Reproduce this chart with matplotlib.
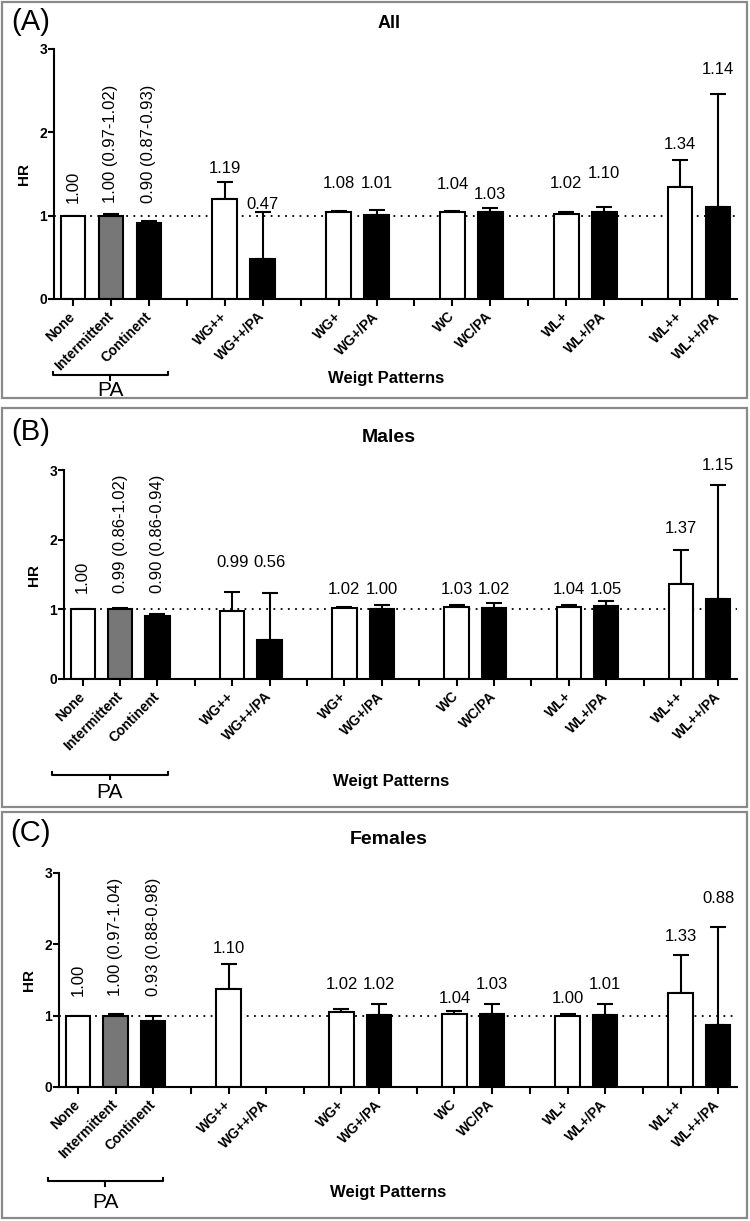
import numpy as np
import matplotlib.pyplot as plt
import matplotlib.patches as patches
import matplotlib.transforms as mtransforms

plt.rcParams['font.family'] = ['Liberation Sans', 'DejaVu Sans']

# x categories (empty strings are the spacer ticks between groups)
categories = ['None', 'Intermittent', 'Continent', '',
              'WG++', 'WG++/PA', '', 'WG+', 'WG+/PA', '',
              'WC', 'WC/PA', '', 'WL+', 'WL+/PA', '', 'WL++', 'WL++/PA']
bar_colors = ['white', '#777777', 'black', 'white', 'black', 'white', 'black',
              'white', 'black', 'white', 'black', 'white', 'black']

# (A) All
hr_all = [1.00, 1.00, 0.91, 1.20, 0.48, 1.04, 1.01, 1.05, 1.04, 1.02, 1.05, 1.34, 1.10]
upper_all = [np.nan, 1.02, 0.94, 1.40, 1.05, 1.06, 1.07, 1.06, 1.09, 1.04, 1.11, 1.67, 2.46]
text_all = ['1.00', '1.00 (0.97-1.02)', '0.90 (0.87-0.93)', '1.19', '0.47', '1.08', '1.01',
            '1.04', '1.03', '1.02', '1.10', '1.34', '1.14']

# (B) Males
hr_male = [1.00, 1.00, 0.90, 0.98, 0.56, 1.02, 1.00, 1.03, 1.02, 1.03, 1.05, 1.37, 1.15]
upper_male = [np.nan, 1.02, 0.93, 1.25, 1.24, 1.04, 1.065, 1.056, 1.094, 1.056, 1.118, 1.85, 2.78]
text_male = ['1.00', '0.99 (0.86-1.02)', '0.90 (0.86-0.94)', '0.99', '0.56', '1.02', '1.00',
             '1.03', '1.02', '1.04', '1.05', '1.37', '1.15']

# (C) Females (no WG++/PA bar)
hr_female = [1.00, 1.00, 0.93, 1.38, np.nan, 1.05, 1.01, 1.03, 1.02, 0.99, 1.01, 1.32, 0.87]
upper_female = [np.nan, 1.03, 0.99, 1.73, np.nan, 1.09, 1.16, 1.06, 1.16, 1.02, 1.16, 1.85, 2.25]
text_female = ['1.00', '1.00 (0.97-1.04)', '0.93 (0.88-0.98)', '1.10', '', '1.02', '1.02',
               '1.04', '1.03', '1.00', '1.01', '1.33', '0.88']

W, H = 750, 1221
fig = plt.figure(figsize=(W / 100, H / 100), dpi=100)

def rect(left, right, top, bottom):
    return [left / W, 1 - bottom / H, (right - left) / W, (bottom - top) / H]

panels = [
    dict(tag='(A)', title='All', tsize=13, hr=hr_all, up=upper_all, txt=text_all,
         box=(2, 747, 2, 398), ax=(54, 737, 49, 299), tag_y=22, title_y=23,
         rot_y=1.15, lab_y=[1.57, 1.13, 1.39, 1.39, 1.37, 1.25, 1.38, 1.50, 1.85, 2.75],
         br=(-0.53, 2.5), br_off=55, pa_off=66, xl_off=57),
    dict(tag='(B)', title='Males', tsize=14, hr=hr_male, up=upper_male, txt=text_male,
         box=(2, 747, 408, 807), ax=(64, 737, 470, 679), tag_y=432, title_y=438,
         rot_y=1.24, lab_y=[1.67, 1.67, 1.28, 1.28, 1.28, 1.28, 1.28, 1.28, 2.16, 3.06],
         br=(-0.83, 2.27), br_off=69, pa_off=82, xl_off=74),
    dict(tag='(C)', title='Females', tsize=14, hr=hr_female, up=upper_female, txt=text_female,
         box=(2, 747, 812, 1218), ax=(59, 737, 873, 1087), tag_y=833, title_y=840,
         rot_y=1.27, lab_y=[1.94, np.nan, 1.43, 1.43, 1.24, 1.43, 1.24, 1.43, 2.11, 2.64],
         br=(-0.8, 2.26), br_off=68, pa_off=83, xl_off=76),
]

xpos = [i for i, c in enumerate(categories) if c]

for p in panels:
    l, r, t, b = p['box']
    fig.add_artist(patches.Rectangle((l / W, 1 - b / H), (r - l) / W, (b - t) / H,
                                     transform=fig.transFigure, fill=False,
                                     edgecolor='#8a8a8a', linewidth=1.6))
    fig.text(31 / W, 1 - p['tag_y'] / H, p['tag'], fontsize=21, ha='center', va='center')
    fig.text(389 / W, 1 - p['title_y'] / H, p['title'], fontsize=p['tsize'],
             fontweight='bold', ha='center', va='center')

    ax = fig.add_axes(rect(*p['ax']))
    ax.axhline(1, color='black', linestyle=(0, (1, 3)), linewidth=1.3, zorder=1)
    hr = np.array(p['hr'])
    up = np.array(p['up'])
    err = np.vstack([np.zeros_like(hr), up - hr])
    ax.bar(xpos, hr, width=0.65, color=bar_colors, edgecolor='black', linewidth=1.5, zorder=2)
    ax.errorbar(xpos, hr, yerr=err, fmt='none', ecolor='black', elinewidth=1.5,
                capsize=6, capthick=1.5, zorder=1.5)

    for i, (x, s) in enumerate(zip(xpos, p['txt'])):
        if not s:
            continue
        if i < 3:
            ax.text(x, p['rot_y'], s, rotation=90, ha='center', va='bottom', fontsize=12)
        else:
            ax.text(x, p['lab_y'][i - 3], s, ha='center', va='center', fontsize=12,
                    clip_on=False)

    ax.set_xlim(-0.5, len(categories) - 0.5)
    ax.set_ylim(0, 3)
    ax.set_yticks([0, 1, 2, 3])
    ax.set_xticks(range(len(categories)))
    ax.set_xticklabels(categories, rotation=45, ha='right', va='center',
                       rotation_mode='anchor', fontweight='bold', fontsize=10)
    for lab in ax.get_yticklabels():
        lab.set_fontweight('bold')
    ax.tick_params(axis='y', labelsize=10, length=4, width=1.5, pad=1)
    ax.tick_params(axis='x', length=5, width=1.5, pad=6)
    for side in ['top', 'right']:
        ax.spines[side].set_visible(False)
    for side in ['left', 'bottom']:
        ax.spines[side].set_linewidth(1.5)
    ax.set_ylabel('HR', fontsize=11, fontweight='bold', labelpad=6)
    ax.patch.set_alpha(0)

    # PA bracket under the first three bars
    x0, x1 = p['br']
    xc = (x0 + x1) / 2
    base = ax.get_xaxis_transform()
    tr = mtransforms.offset_copy(base, fig=fig, y=-p['br_off'], units='points')
    ax.plot([x0, x0, x1, x1], [0.015, 0, 0, 0.015], color='black', lw=1.5,
            transform=tr, clip_on=False)
    ax.plot([xc, xc], [0, -0.02], color='black', lw=1.5, transform=tr, clip_on=False)
    tr_pa = mtransforms.offset_copy(base, fig=fig, y=-p['pa_off'], units='points')
    ax.text(xc, 0, 'PA', fontsize=15, ha='center', va='center', transform=tr_pa)
    tr_xl = mtransforms.offset_copy(base, fig=fig, y=-p['xl_off'], units='points')
    ax.text(8.25, 0, 'Weigt Patterns', fontsize=12, fontweight='bold',
            ha='center', va='center', transform=tr_xl)

fig.savefig('out.png', dpi=100)
